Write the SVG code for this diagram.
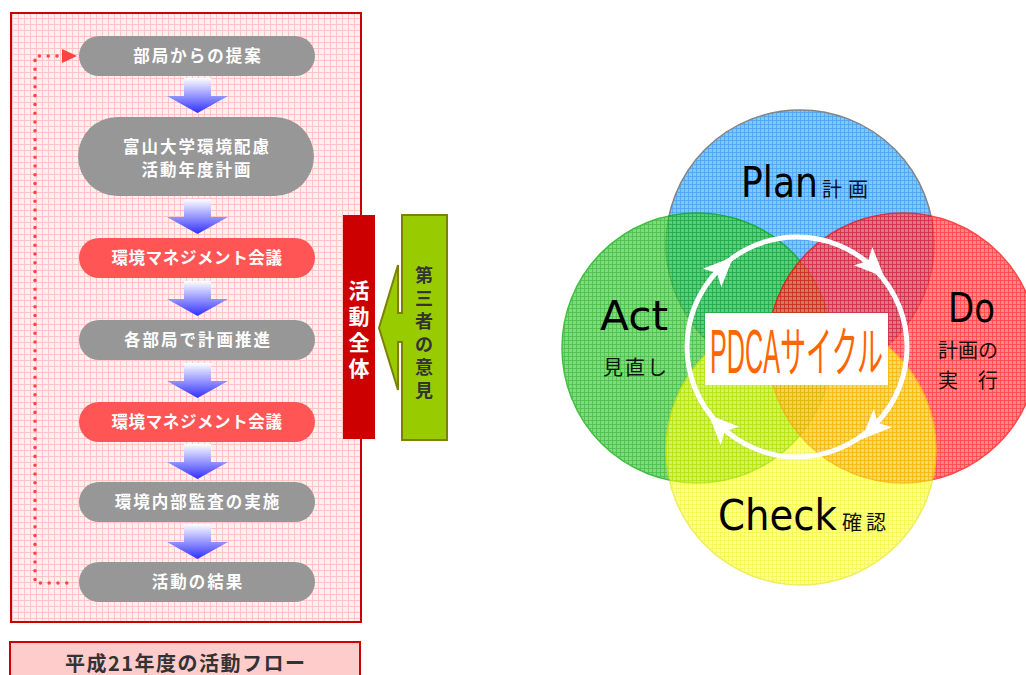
<svg xmlns="http://www.w3.org/2000/svg" width="1026" height="675" viewBox="0 0 1026 675">
<defs>
<style>
.jp{font-family:"Noto Sans CJK JP","Liberation Sans",sans-serif;}
.pill-t{font-family:"Noto Sans CJK JP","Liberation Sans",sans-serif;font-weight:bold;font-size:16.5px;fill:#ffffff;text-anchor:middle;letter-spacing:2px;}
.grey{fill:#979797;}
.red{fill:#ff5555;}
.lat{font-family:"DejaVu Sans","Liberation Sans",sans-serif;fill:#000;}
.sm{font-family:"Noto Sans CJK JP",sans-serif;font-size:20px;fill:#111;}
</style>
<pattern id="pinkgrid" width="6" height="6" patternUnits="userSpaceOnUse">
<rect width="6" height="6" fill="#fff0f0"/>
<path d="M0 0.5H6M0.5 0V6" stroke="#ffc4c4" stroke-width="1"/>
</pattern>
<pattern id="gBlue" width="4" height="4" patternUnits="userSpaceOnUse">
<rect width="4" height="4" fill="#5cbcff"/>
<path d="M0 0.5H4M0.5 0V4" stroke="#1e8cf0" stroke-width="0.8"/>
</pattern>
<pattern id="gGreen" width="4" height="4" patternUnits="userSpaceOnUse">
<rect width="4" height="4" fill="#4fd24f"/>
<path d="M0 0.5H4M0.5 0V4" stroke="#10a810" stroke-width="0.8"/>
</pattern>
<pattern id="gRed" width="4" height="4" patternUnits="userSpaceOnUse">
<rect width="4" height="4" fill="#ff5a5a"/>
<path d="M0 0.5H4M0.5 0V4" stroke="#ff0000" stroke-width="0.8"/>
</pattern>
<pattern id="gYellow" width="4" height="4" patternUnits="userSpaceOnUse">
<rect width="4" height="4" fill="#ffff50"/>
<path d="M0 0.5H4M0.5 0V4" stroke="#f0f000" stroke-width="0.8"/>
</pattern>
<linearGradient id="arrGrad" x1="0" y1="0" x2="0" y2="1">
<stop offset="0" stop-color="#ffffff"/>
<stop offset="1" stop-color="#3030ff"/>
</linearGradient>
<path id="downArrow" d="M-13 0H14V18H31L0.5 35L-30 18H-13Z" fill="url(#arrGrad)"/>
<path id="ringHead" d="M16 0L-14 -13L-7 0L-14 13Z" fill="#ffffff"/>
</defs>

<!-- Left panel -->
<g id="panel">
<rect x="11" y="13" width="350" height="609" fill="url(#pinkgrid)" stroke="#cc0000" stroke-width="2"/>
</g>

<g id="connectors">
<use href="#downArrow" x="197" y="78"/>
<use href="#downArrow" x="197" y="199"/>
<use href="#downArrow" x="197" y="281"/>
<use href="#downArrow" x="197" y="363"/>
<use href="#downArrow" x="197" y="444"/>
<use href="#downArrow" x="197" y="524"/>
<path d="M57 56H35V583H75" fill="none" stroke="#ff4444" stroke-width="3.6" stroke-linecap="round" stroke-dasharray="0 8.8"/>
<path d="M62 49L77 56L62 63Z" fill="#ff4444"/>
</g>

<g id="n1"><rect class="grey" x="79" y="36" width="236" height="40" rx="20"/><text class="pill-t" x="198" y="62">部局からの提案</text></g>
<g id="n2"><rect class="grey" x="78" y="117" width="236" height="79" rx="39.5"/><text class="pill-t" x="197" y="153">富山大学環境配慮</text><text class="pill-t" x="197" y="176">活動年度計画</text></g>
<g id="n3"><rect class="red" x="79" y="238" width="236" height="40" rx="20"/><text class="pill-t" x="197" y="264" style="letter-spacing:0.6px">環境マネジメント会議</text></g>
<g id="n4"><rect class="grey" x="79" y="320" width="236" height="40" rx="20"/><text class="pill-t" x="198" y="346">各部局で計画推進</text></g>
<g id="n5"><rect class="red" x="79" y="402" width="236" height="40" rx="20"/><text class="pill-t" x="197" y="428" style="letter-spacing:0.6px">環境マネジメント会議</text></g>
<g id="n6"><rect class="grey" x="79" y="482" width="236" height="40" rx="20"/><text class="pill-t" x="198" y="508">環境内部監査の実施</text></g>
<g id="n7"><rect class="grey" x="79" y="562" width="236" height="40" rx="20"/><text class="pill-t" x="198" y="588">活動の結果</text></g>

<g id="title">
<rect x="10" y="642" width="350" height="40" fill="#ffcccc" stroke="#cc0000" stroke-width="2"/>
<text class="jp" x="65" y="671" font-size="20" font-weight="bold" fill="#333333" textLength="240" lengthAdjust="spacing">平成21年度の活動フロー</text>
</g>

<g id="whole">
<rect x="343" y="215" width="32" height="224" fill="#cc0000"/>
<text class="jp" x="359" font-size="21" font-weight="bold" fill="#ffffff" text-anchor="middle"><tspan x="359" y="298">活</tspan><tspan x="359" y="324">動</tspan><tspan x="359" y="350">全</tspan><tspan x="359" y="376">体</tspan></text>
</g>

<g id="third">
<path d="M402 215H447V440H402V342H398V390L379 328L398 265V313H402Z" fill="#99cc00" stroke="#808000" stroke-width="2"/>
<text class="jp" x="424" font-size="18" font-weight="bold" fill="#333333" text-anchor="middle"><tspan x="424" y="282">第</tspan><tspan x="424" y="305">三</tspan><tspan x="424" y="328">者</tspan><tspan x="424" y="351">の</tspan><tspan x="424" y="374">意</tspan><tspan x="424" y="397">見</tspan></text>
</g>

<!-- PDCA -->
<g id="plan" opacity="0.8"><circle cx="800" cy="244" r="134" fill="url(#gBlue)" stroke="#666666" stroke-width="1.5"/></g>
<g id="act" opacity="0.75"><circle cx="697" cy="348" r="135" fill="url(#gGreen)" stroke="#00aa00" stroke-width="1.5"/></g>
<g id="do" opacity="0.72"><circle cx="903" cy="348" r="135" fill="url(#gRed)" stroke="#ff0000" stroke-width="1.5"/></g>
<g id="check" opacity="0.65"><circle cx="801" cy="450" r="135" fill="url(#gYellow)" stroke="#e6e600" stroke-width="1.5"/></g>

<g id="cycle">
<circle cx="797" cy="347" r="110" fill="none" stroke="#ffffff" stroke-width="5"/>
<use href="#ringHead" transform="translate(722,268) rotate(-45)"/>
<use href="#ringHead" transform="translate(873,266) rotate(45)"/>
<use href="#ringHead" transform="translate(873,428) rotate(135)"/>
<use href="#ringHead" transform="translate(720,426) rotate(-135)"/>
</g>

<g id="pdca-label">
<rect x="705" y="313" width="183" height="72" fill="#ffffff"/>
<text x="710" y="373" font-family="Liberation Sans,sans-serif" font-size="63" fill="#ff6600" textLength="70" lengthAdjust="spacingAndGlyphs">PDCA</text>
<text x="780" y="372" font-family="Noto Sans CJK JP,sans-serif" font-size="54" fill="#ff6600" textLength="103" lengthAdjust="spacingAndGlyphs">サイクル</text>
</g>

<g id="labels">
<text class="lat" x="741" y="197" font-size="43" textLength="77" lengthAdjust="spacingAndGlyphs">Plan</text>
<text class="sm" x="822" y="197" font-size="21" textLength="46">計画</text>
<text class="lat" x="600" y="330" font-size="41" textLength="68" lengthAdjust="spacingAndGlyphs">Act</text>
<text class="sm" x="603" y="375" textLength="64">見直し</text>
<text class="lat" x="948" y="322" font-size="41" textLength="47" lengthAdjust="spacingAndGlyphs">Do</text>
<text class="sm" x="938" y="358" textLength="60">計画の</text>
<text class="sm" x="938" y="388" textLength="60">実　行</text>
<text class="lat" x="718" y="530" font-size="43" textLength="119" lengthAdjust="spacingAndGlyphs">Check</text>
<text class="sm" x="842" y="530" textLength="44">確認</text>
</g>
</svg>
